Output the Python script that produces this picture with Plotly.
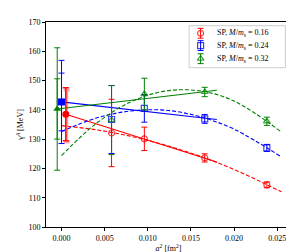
import plotly.graph_objects as go

# lattice data (a^2 in fm^2, value in MeV)
a2 = [0.0058, 0.0096, 0.0166, 0.0238]
red_y = [132.1, 130.1, 123.6, 114.4]
red_err = [11.5, 4.0, 1.4, 1.0]
blue_y = [136.7, 140.5, 136.9, 127.0]
blue_err = [11.6, 4.7, 1.5, 1.2]
green_y = [136.5, 145.4, 146.1, 136.1]
green_err = [11.8, 5.4, 1.6, 1.4]

# continuum extrapolations
ext_x = {"red": 0.0005, "blue": 0.0, "green": -0.0005}
ext_y = {"red": 138.5, "blue": 142.7, "green": 140.3}
ext_err_in = {"red": 9.05, "blue": 9.85, "green": 10.3}
ext_err_out = {"red": 9.05, "blue": 14.2, "green": 20.9}
red_sys_x = 0.0006
red_sys_y = 137.9
red_sys_err = 8.9

# linear fits (endpoints)
lin_x = {"red": [0.0005, 0.018], "blue": [0.0, 0.018], "green": [-0.0005, 0.018]}
lin_y = {"red": [138.5, 122.2], "blue": [142.7, 136.7], "green": [140.3, 146.7]}

# quadratic fits
curve_x = [0.0, 0.004, 0.008, 0.012, 0.016, 0.020, 0.0255]
red_curve = [134.6, 133.2, 131.0, 128.0, 124.2, 119.65, 112.0]
blue_curve = [132.6, 137.2, 139.6, 139.9, 137.7, 133.4, 123.9]
green_curve = [124.4, 135.3, 142.7, 146.4, 146.5, 143.0, 132.4]

labels = {"red": "SP, <i>M</i>/<i>m</i><sub>s</sub> = 0.16",
          "blue": "SP, <i>M</i>/<i>m</i><sub>s</sub> = 0.24",
          "green": "SP, <i>M</i>/<i>m</i><sub>s</sub> = 0.32"}
series = ["red", "blue", "green"]

colors = {"red": "#ff0000", "blue": "#0000ff", "green": "#008000"}
faint = {"red": "rgba(255,0,0,0.75)", "blue": "rgba(0,0,255,0.75)", "green": "rgba(0,128,0,0.75)"}
open_sym = {"red": "circle-open", "blue": "square-open", "green": "triangle-up-open"}
fill_sym = {"red": "circle", "blue": "square", "green": "triangle-up"}
data = {"red": (red_y, red_err, red_curve), "blue": (blue_y, blue_err, blue_curve),
        "green": (green_y, green_err, green_curve)}

fig = go.Figure()

for k in series:
    ys, es, cv = data[k]
    fig.add_trace(go.Scatter(x=curve_x, y=cv, mode="lines",
                             line=dict(color=colors[k], width=1.1, dash="4px,2px", shape="spline"),
                             showlegend=False, hoverinfo="skip"))
    fig.add_trace(go.Scatter(x=lin_x[k], y=lin_y[k], mode="lines", line=dict(color=colors[k], width=1.2),
                             showlegend=False, hoverinfo="skip"))

# red systematic bar
fig.add_trace(go.Scatter(x=[red_sys_x], y=[red_sys_y], mode="markers", marker=dict(size=0.1, opacity=0),
                         error_y=dict(type="data", array=[red_sys_err], color="rgba(255,0,0,0.35)", thickness=3, width=3),
                         showlegend=False, hoverinfo="skip"))

for k in series:
    ys, es, cv = data[k]
    fig.add_trace(go.Scatter(x=a2, y=ys, mode="markers",
                             marker=dict(symbol=open_sym[k], size=6, color=faint[k], line=dict(width=1.2, color=faint[k])),
                             error_y=dict(type="data", array=es, color=colors[k], thickness=1, width=3),
                             name=labels[k], showlegend=False))
    fig.add_trace(go.Scatter(x=[ext_x[k]], y=[ext_y[k]], mode="markers",
                             marker=dict(symbol=fill_sym[k], size=7, color=colors[k]),
                             error_y=dict(type="data", array=[ext_err_out[k]], color=colors[k], thickness=1, width=3),
                             showlegend=False))
    fig.add_trace(go.Scatter(x=[ext_x[k]], y=[ext_y[k]], mode="markers", marker=dict(size=0.1, opacity=0),
                             error_y=dict(type="data", array=[ext_err_in[k]], color=colors[k], thickness=1, width=3),
                             showlegend=False, hoverinfo="skip"))

# hand-built legend (on an overlay unit axis)
leg_x0, leg_x1, leg_y0, leg_y1 = 0.584, 0.977, 0.777, 0.982
leg_marker_x = 0.631
leg_text_x = 0.688
leg_rows = [0.945, 0.885, 0.821]
fig.add_shape(type="rect", xref="x2", yref="y2", x0=leg_x0, x1=leg_x1, y0=leg_y0, y1=leg_y1,
              line=dict(color="#cccccc", width=1), fillcolor="white", layer="below")
for k, ry in zip(series, leg_rows):
    fig.add_trace(go.Scatter(x=[leg_marker_x], y=[ry], xaxis="x2", yaxis="y2", mode="markers",
                             marker=dict(symbol=open_sym[k], size=6, color=faint[k], line=dict(width=1.2, color=faint[k])),
                             error_y=dict(type="data", array=[0.024], color=colors[k], thickness=1, width=3),
                             showlegend=False, hoverinfo="skip"))
    fig.add_annotation(x=leg_text_x, y=ry, xref="x2", yref="y2", text=labels[k], showarrow=False,
                       xanchor="left", yanchor="middle", font=dict(size=8, color="black"))

font = "Liberation Serif"
fig.update_layout(
    width=294, height=252,
    margin=dict(l=38, r=10, t=12, b=33),
    plot_bgcolor="white", paper_bgcolor="white",
    font=dict(family=font, size=8, color="black"),
    showlegend=False,
    xaxis=dict(range=[-0.0018, 0.0266], tickvals=[0, 0.005, 0.01, 0.015, 0.02, 0.025], tickformat=".3f",
               showgrid=False, zeroline=False, showline=True, linecolor="black", linewidth=1, mirror=True,
               ticks="outside", ticklen=3, tickcolor="black",
               title=dict(text="<i>a</i><sup>2</sup> [fm<sup>2</sup>]", font=dict(size=8), standoff=2)),
    yaxis=dict(range=[100, 170], tickvals=[100, 110, 120, 130, 140, 150, 160, 170],
               showgrid=False, zeroline=False, showline=True, linecolor="black", linewidth=1, mirror=True,
               ticks="outside", ticklen=3, tickcolor="black",
               title=dict(text="γ<sup><i>A</i></sup> [MeV]", font=dict(size=8), standoff=3)),
    xaxis2=dict(range=[0, 1], overlaying="x", visible=False, fixedrange=True),
    yaxis2=dict(range=[0, 1], overlaying="y", visible=False, fixedrange=True),
)

fig.write_html("out.html")
